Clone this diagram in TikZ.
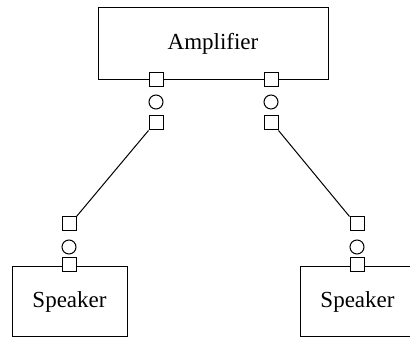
\documentclass[tikz,border=0pt]{standalone}
\usepackage{fontspec}
\setmainfont{Liberation Serif}
\begin{document}
\begin{tikzpicture}[x=1pt, y=1pt, line width=1pt,
  box/.style={rectangle, draw, font=\fontsize{23}{27}\selectfont, inner sep=0pt},
  port/.style={rectangle, draw, fill=white, minimum size=14pt, inner sep=0pt},
  joint/.style={circle, draw, minimum size=14pt, inner sep=0pt}]
\useasboundingbox (0,0) rectangle (410,339);

% boxes
\node[box, minimum width=230pt, minimum height=72.5pt] (amp) at (213,295.25) {Amplifier};
\node[box, minimum width=115pt, minimum height=70pt] (spk1) at (69.5,37) {Speaker};
\node[box, minimum width=115pt, minimum height=70pt] (spk2) at (357.5,37) {Speaker};

% amplifier side
\node[port] (a1) at (156,259) {};
\node[joint] (c1) at (156,237) {};
\node[port] (b1) at (156,216) {};
\node[port] (a2) at (271,259) {};
\node[joint] (c2) at (271,237) {};
\node[port] (b2) at (271,216) {};

% speaker side
\node[port] (s1) at (69,74) {};
\node[joint] (d1) at (69,92) {};
\node[port] (e1) at (69,115) {};
\node[port] (s2) at (357,74) {};
\node[joint] (d2) at (357,92) {};
\node[port] (e2) at (357,115) {};

\draw (b1.south west) -- (e1.north east);
\draw (b2.south east) -- (e2.north west);

\end{tikzpicture}
\end{document}
